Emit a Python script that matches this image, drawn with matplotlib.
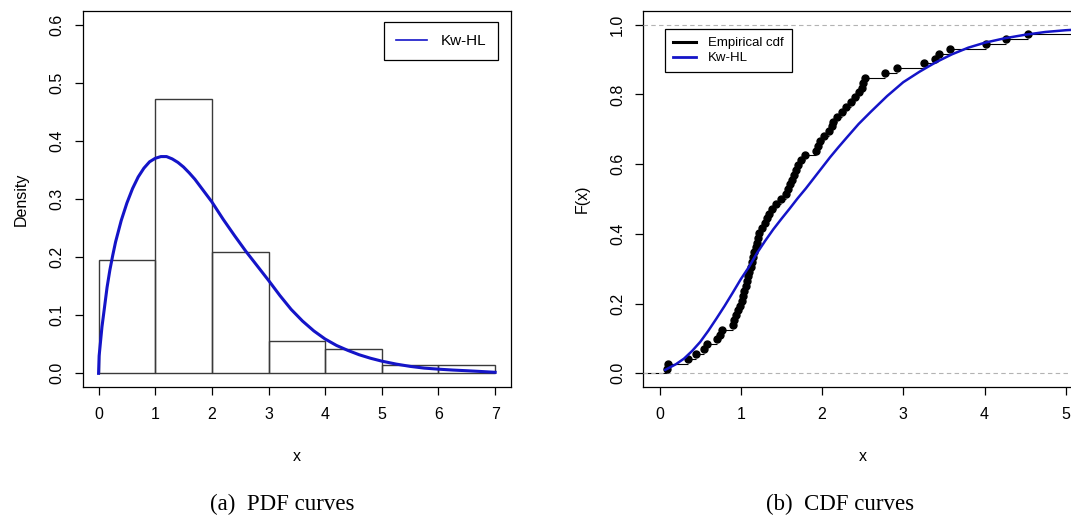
import matplotlib
matplotlib.use("Agg")
import matplotlib.pyplot as plt
from matplotlib.lines import Line2D
import numpy as np

plt.rcParams['font.family'] = ['Liberation Sans', 'DejaVu Sans']

sample = [0.09, 0.10, 0.345, 0.447, 0.55, 0.59, 0.705, 0.738, 0.767, 0.90, 0.915, 0.94, 0.97, 0.99,
          1.01, 1.03, 1.045, 1.06, 1.075, 1.09, 1.105, 1.12, 1.135, 1.15, 1.165, 1.185, 1.20, 1.215,
          1.225, 1.26, 1.30, 1.32, 1.35, 1.39, 1.43, 1.50, 1.56, 1.585, 1.61, 1.625, 1.66, 1.68,
          1.71, 1.74, 1.79, 1.93, 1.95, 1.98,
          2.02, 2.09, 2.12, 2.14, 2.19, 2.25, 2.30, 2.36, 2.41, 2.46, 2.49, 2.51, 2.53, 2.77, 2.92,
          3.25, 3.39, 3.44, 3.58, 4.02, 4.27, 4.54, 5.6, 6.7]
bin_edges = [0, 1, 2, 3, 4, 5, 6, 7]

# fitted Kw-HL density
pdf_x = [0, 0.01, 0.03, 0.06, 0.1, 0.15, 0.2, 0.25, 0.3, 0.4, 0.5, 0.6, 0.7, 0.8, 0.9, 1.0,
         1.1, 1.2, 1.3, 1.4, 1.5, 1.6, 1.7, 1.8, 1.9, 2.0, 2.2, 2.4, 2.6, 2.8, 3.0, 3.2, 3.4,
         3.6, 3.8, 4.0, 4.2, 4.4, 4.6, 4.8, 5.0, 5.25, 5.5, 5.75, 6.0, 6.25, 6.5, 6.75, 7.0]
pdf_y = [0, 0.03, 0.05, 0.08, 0.11, 0.148, 0.178, 0.203, 0.226, 0.263, 0.293, 0.318, 0.338,
         0.353, 0.364, 0.370, 0.373, 0.373, 0.369, 0.363, 0.355, 0.345, 0.334, 0.321, 0.308,
         0.295, 0.265, 0.237, 0.210, 0.185, 0.160, 0.134, 0.110, 0.090, 0.073, 0.059, 0.048,
         0.0395, 0.032, 0.026, 0.021, 0.016, 0.012, 0.009, 0.0072, 0.0057, 0.0045, 0.0032, 0.0018]

# fitted Kw-HL cdf
cdf_x = [0.07, 0.2, 0.3, 0.4, 0.5, 0.6, 0.7, 0.8, 0.9, 1.0, 1.1, 1.2, 1.3, 1.4, 1.5, 1.6, 1.7,
         1.8, 1.9, 2.0, 2.1, 2.2, 2.3, 2.45, 2.6, 2.8, 3.0, 3.2, 3.4, 3.6, 3.8, 4.0, 4.25, 4.5,
         4.75, 5.0, 5.3]
cdf_y = [0.01, 0.026, 0.042, 0.064, 0.09, 0.122, 0.157, 0.193, 0.231, 0.27, 0.305, 0.345, 0.38,
         0.413, 0.443, 0.472, 0.502, 0.53, 0.56, 0.59, 0.62, 0.648, 0.675, 0.715, 0.75, 0.795,
         0.835, 0.865, 0.892, 0.915, 0.934, 0.948, 0.961, 0.971, 0.979, 0.984, 0.988]

blue = '#1414c8'
W, H = 1071, 520
fig = plt.figure(figsize=(W / 100, H / 100), dpi=100)

def px_axes(left, right, top, bottom):
    return fig.add_axes([left / W, 1 - bottom / H, (right - left) / W, (bottom - top) / H])

def r_style(ax):
    for s in ax.spines.values():
        s.set_linewidth(0.9)
    ax.tick_params(direction='out', length=5.5, width=0.9, labelsize=11.5)
    ax.tick_params(axis='x', pad=9)
    ax.tick_params(axis='y', pad=7.5, labelrotation=90)
    for lab in ax.get_yticklabels():
        lab.set_verticalalignment('center')

# (a) PDF
ax1 = px_axes(82.7, 511, 10.7, 387.3)
ax1.hist(sample, bins=bin_edges, density=True, fill=False, edgecolor='#3a3a3a', linewidth=1.0)
ax1.plot(pdf_x, pdf_y, color=blue, lw=2.2, solid_joinstyle='round')
ax1.set_xlim(-0.28, 7.28)
ax1.set_ylim(-0.024, 0.624)
ax1.set_xticks(range(8))
ax1.set_yticks(np.arange(0, 0.61, 0.1))
ax1.set_yticklabels([f'{v:.1f}' for v in np.arange(0, 0.61, 0.1)])
r_style(ax1)
ax1.set_xlabel('x', fontsize=11.5, labelpad=19)
ax1.set_ylabel('Density', fontsize=11.5, labelpad=15)
ax1.legend(handles=[Line2D([], [], color=blue, lw=1.2)], labels=['Kw-HL'],
           loc='upper right', bbox_to_anchor=(0.9703, 0.9708), borderaxespad=0,
           fancybox=False, edgecolor='black', framealpha=1, fontsize=11,
           handlelength=2.0, handletextpad=0.9, borderpad=0.8)
ax1.get_legend().get_frame().set_linewidth(0.9)

# (b) CDF
ax2 = px_axes(643.3, 1082, 10.7, 387.3)
xs = np.sort(np.array(sample))
Fs = np.arange(1, len(xs) + 1) / len(xs)
xlim2 = (-0.2, 5.2)
ax2.hlines(Fs[:-1], xs[:-1], xs[1:], color='black', lw=0.8)
ax2.hlines([0, 1], [xlim2[0] - 1, xs[-1]], [xs[0], xlim2[1] + 3], color='black', lw=0.8)
ax2.axhline(0, color='#b3b3b3', lw=0.8, ls=(0, (4, 3)), zorder=3)
ax2.axhline(1, color='#b3b3b3', lw=0.8, ls=(0, (4, 3)), zorder=3)
ax2.plot(xs, Fs, 'o', color='black', ms=5, zorder=4)
ax2.plot(cdf_x, cdf_y, color=blue, lw=1.8, zorder=5, solid_joinstyle='round')
ax2.set_xlim(*xlim2)
ax2.set_ylim(-0.04, 1.04)
ax2.set_xticks(range(6))
ax2.set_yticks(np.arange(0, 1.01, 0.2))
ax2.set_yticklabels([f'{v:.1f}' for v in np.arange(0, 1.01, 0.2)])
r_style(ax2)
ax2.set_xlabel('x', fontsize=11.5, labelpad=19)
ax2.set_ylabel('F(x)', fontsize=11.5, labelpad=15)
leg2 = ax2.legend(handles=[Line2D([], [], color='black', lw=2.2),
                           Line2D([], [], color=blue, lw=2.0)],
                  labels=['Empirical cdf', 'Kw-HL'],
                  loc='upper left', bbox_to_anchor=(0.050, 0.9506), borderaxespad=0,
                  fancybox=False, edgecolor='black', framealpha=1, fontsize=9.5,
                  handlelength=1.75, handletextpad=0.9, borderpad=0.6, labelspacing=0.2)
leg2.get_frame().set_linewidth(0.9)

# subfigure captions
cap = dict(ha='center', va='center', fontsize=16.5, family=['Liberation Serif', 'DejaVu Serif'])
fig.text(282 / W, 1 - 504 / H, '(a)  PDF curves', **cap)
fig.text(840 / W, 1 - 504 / H, '(b)  CDF curves', **cap)

fig.savefig('out.png', dpi=100)
